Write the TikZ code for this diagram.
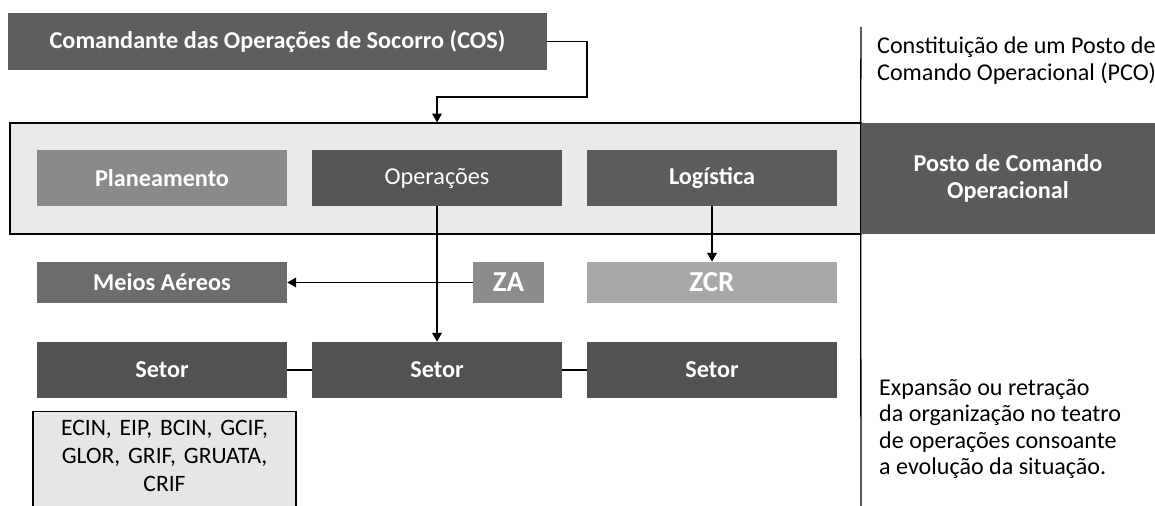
\documentclass[tikz,border=0pt]{standalone}
\usepackage{fontspec}
\setmainfont{Carlito}
\usepackage{tikz}
\usetikzlibrary{arrows.meta,positioning,calc}

\definecolor{cosgray}{HTML}{5E5E5E}
\definecolor{plangray}{HTML}{8A8A8A}
\definecolor{opsgray}{HTML}{555555}
\definecolor{loggray}{HTML}{5C5C5C}
\definecolor{pcogray}{HTML}{5A5A5A}
\definecolor{airgray}{HTML}{6C6C6C}
\definecolor{zagray}{HTML}{8C8C8C}
\definecolor{zcrgray}{HTML}{A8A8A8}
\definecolor{setgray}{HTML}{525252}
\definecolor{teamgray}{HTML}{E6E6E6}
\definecolor{framegray}{HTML}{EAEAEA}

\begin{document}
\begin{tikzpicture}[x=0.02cm, y=-0.02cm,
  box/.style={fill=#1, text=white, inner sep=0pt,
    minimum width=5cm, minimum height=1.12cm,
    font=\fontsize{13.8}{15.5}\selectfont\bfseries, align=center},
  zone/.style={box=#1, minimum height=0.82cm},
  note/.style={anchor=north west, align=left,
    font=\fontsize{13.7}{15.1}\selectfont},
  line/.style={line width=0.75pt, black},
  arr/.style={line, -{Triangle[length=5pt,width=5.5pt]}},
]
\clip (0,0) rectangle (1155,506);

%% Command
\node[box=cosgray, minimum width=10.78cm, minimum height=1.16cm] (cos) at (277.5,41.5)
  {Comandante das Operações de Socorro (COS)};

%% PCO frame
\node[line, draw, fill=framegray, inner sep=0pt,
  minimum width=17.02cm, minimum height=2.22cm] (frame) at (435.5,178.5) {};
\node[box=pcogray, minimum width=5.88cm, minimum height=2.22cm] (pco) at (1008,178.5)
  {Posto de Comando\\Operacional};

\node[box=plangray] (plan) at (162,178) {Planeamento};
\node[box=opsgray, font=\fontsize{13.8}{15.5}\selectfont] (ops) at (437,178) {Operações};
\node[box=loggray] (log) at (712,178) {Logística};

%% Zones
\node[zone=airgray] (air) at (162,282.5) {Meios Aéreos};
\node[zone=zagray, minimum width=1.42cm, font=\fontsize{16.5}{18}\selectfont\bfseries] (za) at (508.5,282.5) {ZA};
\node[zone=zcrgray, font=\fontsize{16.5}{18}\selectfont\bfseries] (zcr) at (712,282.5) {ZCR};

%% Sectors
\node[box=setgray] (set1) at (162,370) {Setor};
\node[box=setgray] (set2) at (437,370) {Setor};
\node[box=setgray] (set3) at (712,370) {Setor};

\node[line, draw, fill=teamgray, text=black, anchor=north,
  minimum width=5.1cm, text width=4.9cm, inner sep=0.18cm, text depth=1.8cm,
  align=center, font=\fontsize{13.4}{15.8}\selectfont] (teams) at (164.5,411)
  {ECIN, EIP, BCIN, GCIF,\\GLOR, GRIF, GRUATA,\\CRIF};

%% Connections
\coordinate (bend) at (587,97);
\draw[arr] (cos.east) -| (bend) -| (ops |- frame.north);
\draw[arr] (ops.south) -- (set2.north);
\draw[arr] (log.south) -- (zcr.north);
\draw[arr] (za.west) -- (air.east);
\draw[line] (set1.east) -- (set2.west);
\draw[line] (set2.east) -- (set3.west);

%% Divider and notes
\coordinate (divtop) at (861,27);
\coordinate (divbot) at (861,506);
\draw[line] (divtop) -- (pco.north west);
\draw[line] (pco.south west) -- (divbot);

\node[note] (pcotitle) at (871,31)
  {Constituição de um Posto de\\Comando Operacional (PCO)};
\node[note] (expnote) at (873,373)
  {Expansão ou retração\\da organização no teatro\\de operações consoante\\a evolução da situação.};

\end{tikzpicture}
\end{document}
